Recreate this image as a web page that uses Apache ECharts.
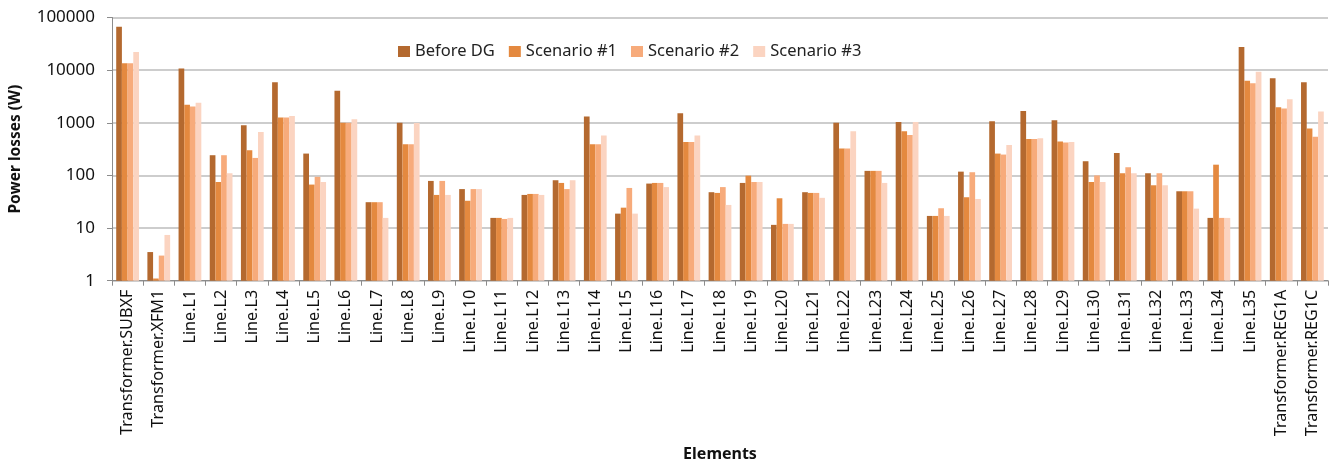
<!DOCTYPE html>
<html>
<head>
<meta charset="utf-8">
<script src="https://cdn.jsdelivr.net/npm/echarts@6/dist/echarts.min.js"></script>
<style>
  html, body { margin: 0; padding: 0; background: #ffffff; }
  #chart { width: 1335px; height: 462px; }
</style>
</head>
<body>
<div id="chart"></div>
<script>
// Network elements (x-axis categories)
const elements = [
  'Transformer.SUBXF', 'Transformer.XFM1',
  'Line.L1', 'Line.L2', 'Line.L3', 'Line.L4', 'Line.L5', 'Line.L6', 'Line.L7', 'Line.L8', 'Line.L9',
  'Line.L10', 'Line.L11', 'Line.L12', 'Line.L13', 'Line.L14', 'Line.L15', 'Line.L16', 'Line.L17',
  'Line.L18', 'Line.L19', 'Line.L20', 'Line.L21', 'Line.L22', 'Line.L23', 'Line.L24', 'Line.L25',
  'Line.L26', 'Line.L27', 'Line.L28', 'Line.L29', 'Line.L30', 'Line.L31', 'Line.L32', 'Line.L33',
  'Line.L34', 'Line.L35', 'Transformer.REG1A', 'Transformer.REG1C'
];

// Power losses in W for each case
const beforeDG = [
  67000, 3.5,
  10700, 242, 900, 5900, 260, 4040, 31, 1000, 78.6,
  55, 15.6, 42.6, 81, 1313, 18.8, 70, 1520,
  48, 72, 11.5, 48, 1000, 122, 1040, 17,
  118, 1070, 1680, 1120, 186, 268, 110, 50,
  15.6, 27400, 7050, 5900
];
const scenario1 = [
  13500, 1.1,
  2200, 75, 301, 1260, 67, 1000, 31, 391, 42.6,
  33, 15.6, 44.5, 72, 391, 24.4, 72, 433,
  46.5, 99, 36.8, 46.5, 324, 122, 690, 17,
  38.5, 260, 494, 440, 75, 110, 65, 50,
  160, 6260, 1980, 777
];
const scenario2 = [
  13500, 3.0,
  2040, 242, 215, 1260, 94, 1000, 31, 391, 78.6,
  55, 14.9, 44.5, 55, 391, 57.8, 72, 433,
  60, 75, 12, 46.5, 324, 122, 589, 23.8,
  115, 249, 494, 421, 100, 143, 110, 50,
  15.6, 5660, 1860, 540
];
const scenario3 = [
  22000, 7.4,
  2400, 110, 665, 1350, 75, 1170, 15.6, 990, 42.6,
  55, 15.6, 42.6, 81, 571, 18.8, 60, 571,
  27.5, 75, 12, 37.5, 690, 72, 1040, 17,
  35.7, 380, 510, 433, 75, 110, 65, 23.4,
  15.6, 9290, 2810, 1630
];

const seriesNames = ['Before DG', 'Scenario #1', 'Scenario #2', 'Scenario #3'];
const seriesColors = ['#B4692F', '#E4893F', '#F7AB7B', '#FBD4C1'];
const seriesData = [beforeDG, scenario1, scenario2, scenario3];

const chart = echarts.init(document.getElementById('chart'));

chart.setOption({
  animation: false,
  textStyle: { fontFamily: 'Noto Sans' },
  legend: {
    data: seriesNames,
    left: 393,
    top: 38,
    itemWidth: 12,
    itemHeight: 11,
    itemGap: 14,
    icon: 'rect',
    textStyle: { fontSize: 16.5, color: '#222222', fontFamily: 'Noto Sans' }
  },
  grid: {
    left: 112,
    right: 7,
    top: 17.5,
    bottom: 181.3,
    containLabel: false,
    outerBoundsMode: 'none'
  },
  xAxis: {
    type: 'category',
    data: elements,
    name: 'Elements',
    nameLocation: 'middle',
    nameGap: 166,
    nameTextStyle: { fontSize: 16, fontWeight: 'bold', color: '#111111', fontFamily: 'Noto Sans' },
    axisLine: { lineStyle: { color: '#8c8c8c', width: 1 } },
    axisTick: { show: true, alignWithLabel: false, length: 5, lineStyle: { color: '#8c8c8c' } },
    axisLabel: {
      rotate: 90,
      interval: 0,
      margin: 9,
      fontSize: 16.2,
      color: '#111111',
      fontFamily: 'Noto Sans'
    }
  },
  yAxis: {
    type: 'log',
    logBase: 10,
    min: 1,
    max: 100000,
    name: 'Power losses (W)',
    nameLocation: 'middle',
    nameGap: 88,
    nameRotate: 90,
    nameTextStyle: { fontSize: 15.5, fontWeight: 'bold', color: '#111111', fontFamily: 'Noto Sans' },
    axisLine: { show: true, lineStyle: { color: '#8c8c8c', width: 1 } },
    axisTick: { show: true, length: 5, lineStyle: { color: '#8c8c8c' } },
    axisLabel: {
      fontSize: 17,
      margin: 17,
      color: '#111111',
      fontFamily: 'Noto Sans',
      formatter: (v) => String(Math.round(v))
    },
    splitLine: { show: true, lineStyle: { color: '#bcbcbc', width: 1.5 } },
    minorTick: { show: false },
    minorSplitLine: { show: false }
  },
  series: seriesNames.map((name, i) => ({
    name: name,
    type: 'bar',
    data: seriesData[i],
    itemStyle: { color: seriesColors[i] },
    barGap: '0%',
    barCategoryGap: '27%'
  }))
});
</script>
</body>
</html>
